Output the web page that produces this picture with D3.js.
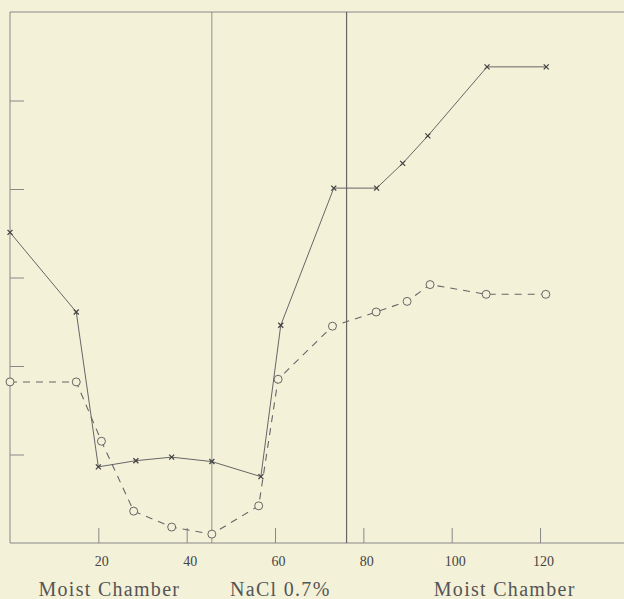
<!DOCTYPE html>
<html>
<head>
<meta charset="utf-8">
<script src="https://cdn.jsdelivr.net/npm/d3@7"></script>
<style>
  body { margin: 0; background: #f4f1d9; }
  svg { display: block; }
  .axis text { font-family: "Liberation Serif", serif; font-size: 14px; fill: #444; }
  .axis line { stroke: #888; }
</style>
</head>
<body>
<script>
// values (y in tick units, 0 at the axis)
var solidX = [0, 15, 20, 28.5, 36.6, 45.7, 56.8, 61.3, 73.3, 83, 88.9, 94.6, 108, 121.4];
var solidY = [3.51, 2.61, 0.86, 0.93, 0.97, 0.92, 0.75, 2.46, 4.01, 4.01, 4.29, 4.6, 5.38, 5.38];

var dashX = [0, 15, 20.7, 28, 36.6, 45.7, 56.3, 60.7, 73, 82.9, 89.9, 95.1, 107.8, 121.3];
var dashY = [1.82, 1.82, 1.15, 0.36, 0.18, 0.10, 0.42, 1.85, 2.45, 2.61, 2.73, 2.92, 2.81, 2.81];

var xTicks = [20, 40, 60, 80, 100, 120];
var yTicks = [1, 2, 3, 4, 5];
var dividers = [45.7, 76.2];
var sections = [
  { label: "Moist Chamber", at: 22.5 },
  { label: "NaCl 0.7%", at: 61.2 },
  { label: "Moist Chamber", at: 112 }
];

var margin = { top: 12, left: 10 },
    width = 624,
    height = 599;

var svg = d3.select("body")
    .append("svg")
    .attr("width", width)
    .attr("height", height);

var x = d3.scaleLinear()
    .domain([0, 140])
    .range([margin.left, margin.left + 140 * 4.417]);

var y = d3.scaleLinear()
    .domain([0, 6])
    .range([543, margin.top]);

// frame: left, bottom, top
svg.append("line")
    .attr("x1", x(0)).attr("x2", x(0))
    .attr("y1", y(6)).attr("y2", y(0))
    .attr("stroke", "#888");
svg.append("line")
    .attr("x1", x(0)).attr("x2", width)
    .attr("y1", y(0)).attr("y2", y(0))
    .attr("stroke", "#888");
svg.append("line")
    .attr("x1", x(0)).attr("x2", width)
    .attr("y1", y(6)).attr("y2", y(6))
    .attr("stroke", "#888");

var xAxis = d3.axisBottom(x)
    .tickValues(xTicks)
    .tickSizeInner(-15)
    .tickSizeOuter(0)
    .tickPadding(13);

var gX = svg.append("g")
    .attr("class", "axis")
    .attr("transform", "translate(0," + y(0) + ")")
    .call(xAxis);
gX.select(".domain").remove();
gX.selectAll("text").attr("dx", 3);

var yAxis = d3.axisLeft(y)
    .tickValues(yTicks)
    .tickSizeInner(-14)
    .tickSizeOuter(0)
    .tickFormat("");

var gY = svg.append("g")
    .attr("class", "axis")
    .attr("transform", "translate(" + x(0) + ",0)")
    .call(yAxis);
gY.select(".domain").remove();

// vertical dividers
svg.selectAll(".divider")
    .data(dividers)
    .enter().append("line")
    .attr("class", "divider")
    .attr("x1", function (d) { return x(d); })
    .attr("x2", function (d) { return x(d); })
    .attr("y1", y(6))
    .attr("y2", y(0))
    .attr("stroke", function (d, i) { return i == 0 ? "#777" : "#666"; })
    .attr("stroke-width", function (d, i) { return i == 0 ? 0.8 : 1.2; });

var solid = solidX.map(function (d, i) { return [d, solidY[i]]; });
var dashed = dashX.map(function (d, i) { return [d, dashY[i]]; });

var line = d3.line()
    .x(function (d) { return x(d[0]); })
    .y(function (d) { return y(d[1]); });

svg.append("path")
    .datum(solid)
    .attr("d", line)
    .attr("fill", "none")
    .attr("stroke", "#666")
    .attr("stroke-width", 1);

svg.append("path")
    .datum(dashed)
    .attr("d", line)
    .attr("fill", "none")
    .attr("stroke", "#666")
    .attr("stroke-width", 1.1)
    .attr("stroke-dasharray", "7,6");

// little cross markers on the solid line
var cross = svg.selectAll(".cross")
    .data(solid)
    .enter().append("g")
    .attr("class", "cross")
    .attr("transform", function (d) { return "translate(" + x(d[0]) + "," + y(d[1]) + ")"; });
cross.append("path")
    .attr("d", "M-2.5,-2.5L2.5,2.5M-2.5,2.5L2.5,-2.5")
    .attr("stroke", "#444")
    .attr("stroke-width", 1.3);

// open circles on the dashed line
svg.selectAll(".circ")
    .data(dashed)
    .enter().append("circle")
    .attr("class", "circ")
    .attr("cx", function (d) { return x(d[0]); })
    .attr("cy", function (d) { return y(d[1]); })
    .attr("r", 4)
    .attr("fill", "#f4f1d9")
    .attr("stroke", "#666")
    .attr("stroke-width", 1);

// section labels under the axis
svg.selectAll(".section")
    .data(sections)
    .enter().append("text")
    .attr("class", "section")
    .attr("x", function (d) { return x(d.at); })
    .attr("y", 596)
    .attr("text-anchor", "middle")
    .attr("font-family", "Liberation Serif, serif")
    .attr("font-size", 20)
    .attr("letter-spacing", 1.3)
    .attr("fill", "#555")
    .text(function (d) { return d.label; });
</script>
</body>
</html>
